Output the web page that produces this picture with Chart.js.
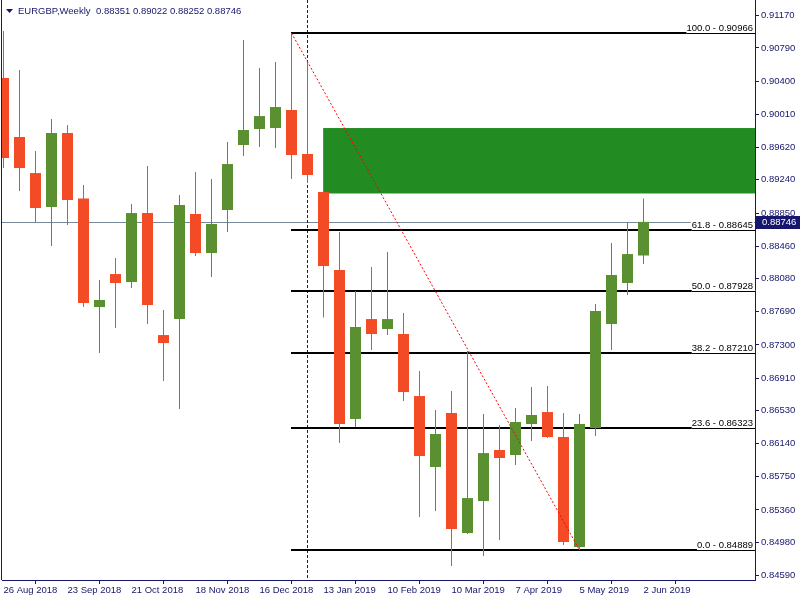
<!DOCTYPE html>
<html>
<head>
<meta charset="utf-8">
<title>EURGBP,Weekly</title>
<script src="https://cdn.jsdelivr.net/npm/chart.js@4.4.0/dist/chart.umd.min.js"></script>
<style>
  html, body { margin: 0; padding: 0; background: #fff; }
  canvas { display: block; }
</style>
</head>
<body>
<canvas id="chart" width="800" height="600"></canvas>
<script>
// weekly bars, 26 Aug 2018 .. 2 Jun 2019
const opens  = [0.90437,0.89744,0.89320,0.88921,0.89791,0.89022,0.87745,0.88133,0.88039,0.88850,0.87416,0.87604,0.88839,0.88380,0.88886,0.89650,0.89838,0.89849,0.90061,0.89544,0.89097,0.88180,0.86429,0.87604,0.87487,0.87428,0.86699,0.85865,0.86500,0.85089,0.85465,0.86065,0.86006,0.86370,0.86511,0.86217,0.84924,0.86323,0.87546,0.88028,0.88351];
const highs  = [0.90990,0.90531,0.89579,0.89955,0.89885,0.89179,0.88063,0.88321,0.88956,0.89403,0.87710,0.89062,0.89332,0.89250,0.89685,0.90884,0.90555,0.90625,0.90966,0.90625,0.89849,0.88627,0.87934,0.88216,0.88392,0.87675,0.86993,0.86535,0.86758,0.87228,0.86488,0.86358,0.86558,0.86805,0.86817,0.86500,0.86488,0.87781,0.88498,0.88745,0.89022];
const lows   = [0.89379,0.89109,0.88745,0.88462,0.88709,0.87745,0.87205,0.87499,0.87969,0.87546,0.86876,0.86546,0.88345,0.88098,0.88627,0.89520,0.89626,0.89614,0.89250,0.89203,0.87622,0.86147,0.86335,0.87240,0.87416,0.86641,0.85277,0.85348,0.84701,0.85077,0.84819,0.85007,0.85888,0.86170,0.86206,0.84948,0.84889,0.86229,0.87240,0.87887,0.88252];
const closes = [0.89497,0.89379,0.88909,0.89791,0.89003,0.87792,0.87828,0.88028,0.88850,0.87769,0.87322,0.88944,0.88380,0.88721,0.89426,0.89826,0.89990,0.90096,0.89532,0.89297,0.88227,0.86370,0.87510,0.87428,0.87604,0.86746,0.85994,0.86253,0.85136,0.85500,0.86029,0.85971,0.86394,0.86476,0.86217,0.84983,0.86370,0.87698,0.88122,0.88368,0.88746];

const tickDates = ['26 Aug 2018','23 Sep 2018','21 Oct 2018','18 Nov 2018','16 Dec 2018','13 Jan 2019','10 Feb 2019','10 Mar 2019','7 Apr 2019','5 May 2019','2 Jun 2019'];
const weeksPerTick = 4;
const priceTicks = [0.91170,0.90790,0.90400,0.90010,0.89620,0.89240,0.88850,0.88460,0.88080,0.87690,0.87300,0.86910,0.86530,0.86140,0.85750,0.85360,0.84980,0.84590];

// fibo retracement drawn from bar 18 high to bar 36 low
const fibLevels = ['100.0','61.8','50.0','38.2','23.6','0.0'];
const fibPrices = [0.90966,0.88645,0.87928,0.87210,0.86323,0.84889];
const fibStartBar = 18;
const trendBars = [18, 36];
const trendPrices = [0.90966, 0.84889];
// supply zone rectangle
const zoneStartBar = 20;
const zoneTop = 0.89849;
const zoneBottom = 0.89080;
const separatorBar = 19;

const UP = '#5b9030';
const DOWN = '#f24b26';
const NAVY = '#16166e';
const FONT = "'Liberation Sans', Arial, sans-serif";

const candleColors = closes.map((c, i) => c >= opens[i] ? UP : DOWN);
const lastClose = closes[closes.length - 1];

const overlay = {
    id: 'overlay',
    beforeDatasetsDraw(chart) {
        const {ctx, chartArea: a, scales: {x, y}} = chart;
        ctx.save();
        // zone
        const zx = x.getPixelForValue(zoneStartBar);
        const zt = y.getPixelForValue(zoneTop);
        const zb = y.getPixelForValue(zoneBottom);
        ctx.fillStyle = '#228b22';
        ctx.fillRect(zx, zt, a.right - zx, zb - zt);

        // bid line
        const by = Math.round(y.getPixelForValue(lastClose)) + 0.5;
        ctx.strokeStyle = '#778899';
        ctx.lineWidth = 1;
        ctx.beginPath();
        ctx.moveTo(a.left, by);
        ctx.lineTo(a.right, by);
        ctx.stroke();

        // period separator
        const sx = x.getPixelForValue(separatorBar);
        ctx.strokeStyle = NAVY;
        ctx.setLineDash([3, 2]);
        ctx.beginPath();
        ctx.moveTo(sx, 0);
        ctx.lineTo(sx, a.bottom);
        ctx.stroke();
        ctx.setLineDash([]);

        // fibo levels
        const fx = x.getPixelForValue(fibStartBar) - 0.5;
        ctx.font = '9.5px ' + FONT;
        ctx.textBaseline = 'alphabetic';
        fibLevels.forEach((lvl, i) => {
            const py = Math.round(y.getPixelForValue(fibPrices[i]));
            const txt = lvl + ' - ' + fibPrices[i].toFixed(5);
            const w = ctx.measureText(txt).width;
            const tx = a.right - 2 - w;
            ctx.fillStyle = '#fff';
            ctx.fillRect(tx - 1, py - 11, w + 2, 10);
            ctx.fillStyle = '#000';
            ctx.fillText(txt, tx, py - 2);
            ctx.fillRect(fx, py - 1, tx - fx, 2);
            ctx.fillRect(tx, py, a.right - tx, 1);
        });
        ctx.restore();
    },
    afterDraw(chart) {
        const {ctx, chartArea: a, scales: {y}} = chart;
        ctx.save();
        // left frame
        ctx.fillStyle = NAVY;
        ctx.fillRect(a.left - 1, 0, 1, a.bottom);

        // header
        ctx.beginPath();
        ctx.moveTo(6, 9);
        ctx.lineTo(13, 9);
        ctx.lineTo(9.5, 13);
        ctx.closePath();
        ctx.fill();
        ctx.font = '9.5px ' + FONT;
        ctx.textBaseline = 'middle';
        ctx.fillStyle = NAVY;
        ctx.fillText('EURGBP,Weekly', 18, 11);
        const vals = [opens, highs, lows, closes].map(s => s[s.length - 1].toFixed(5)).join(' ');
        ctx.fillText(vals, 96, 11);

        // bid price box
        const by = Math.round(y.getPixelForValue(lastClose));
        ctx.fillStyle = NAVY;
        ctx.fillRect(a.right + 1, by - 6, 800 - a.right - 1, 13);
        ctx.fillStyle = '#fff';
        ctx.fillText(lastClose.toFixed(5), a.right + 7, by + 0.5);
        ctx.restore();
    }
};

const ctx = document.getElementById('chart').getContext('2d');
const myChart = new Chart(ctx, {
    type: 'bar',
    data: {
        datasets: [{
            type: 'line',
            data: trendBars.map((b, i) => ({x: b, y: trendPrices[i]})),
            borderColor: '#ff0000',
            borderWidth: 1,
            borderDash: [2, 2],
            pointRadius: 0,
            fill: false,
            order: 0
        }, {
            data: opens.map((o, i) => ({x: i, y: [o, closes[i]]})),
            backgroundColor: candleColors,
            barThickness: 11,
            grouped: false,
            inflateAmount: 0,
            borderWidth: 0,
            order: 1
        }, {
            data: lows.map((l, i) => ({x: i, y: [l, highs[i]]})),
            backgroundColor: candleColors,
            barThickness: 1,
            grouped: false,
            inflateAmount: 0,
            borderWidth: 0,
            order: 2
        }]
    },
    options: {
        responsive: false,
        animation: false,
        layout: { padding: { left: 2, top: 0, right: 0, bottom: 0 } },
        plugins: { legend: { display: false }, tooltip: { enabled: false } },
        scales: {
            x: {
                type: 'linear',
                offset: false,
                min: -0.09375,
                max: 46.96875,
                afterBuildTicks: (s) => { s.ticks = tickDates.map((d, i) => ({value: i * weeksPerTick})); },
                afterFit: (s) => { s.height = 20; s.paddingLeft = 0; s.paddingRight = 0; },
                ticks: {
                    autoSkip: false,
                    maxRotation: 0,
                    align: 'start',
                    padding: 1,
                    color: NAVY,
                    font: { family: FONT, size: 9.5 },
                    callback: (v) => tickDates[v / weeksPerTick]
                },
                grid: { drawOnChartArea: false, drawTicks: true, tickLength: 4, color: NAVY },
                border: { display: true, color: NAVY }
            },
            y: {
                position: 'right',
                min: 0.84537,
                max: 0.91354,
                afterBuildTicks: (s) => { s.ticks = priceTicks.map(v => ({value: v})); },
                afterFit: (s) => { s.width = 45; s.paddingTop = 0; s.paddingBottom = 0; },
                ticks: {
                    padding: 2,
                    color: NAVY,
                    font: { family: FONT, size: 9.5 },
                    callback: (v) => v.toFixed(5)
                },
                grid: { drawOnChartArea: false, drawTicks: true, tickLength: 4, color: NAVY },
                border: { display: true, color: NAVY }
            }
        }
    },
    plugins: [overlay]
});
</script>
</body>
</html>
